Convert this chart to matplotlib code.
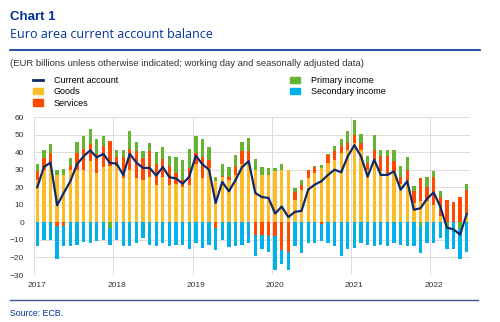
"""
Euro area current account balance (ECB Chart 1)
"""

import numpy as np
import matplotlib
matplotlib.use('Agg')
import matplotlib.pyplot as plt
from matplotlib.patches import Patch
from matplotlib.lines import Line2D

#---------------------------------------------------------------------------------------------------
# Data (EUR billions, monthly, Jan 2017 - Jun 2022)
#---------------------------------------------------------------------------------------------------

years = ['2017', '2018', '2019', '2020', '2021', '2022']

goods = [24, 30, 33, 27, 27, 30, 30, 30, 35, 28, 31.5, 32,
         32, 25, 30, 25, 24, 26, 21.5, 26, 21.5, 22, 20, 21,
         33, 25, 31, 23.4, 26, 24, 27, 33, 34, 30, 27, 27,
         29, 30, 30, 13, 18.6, 25, 28, 31, 33.8, 35.7, 39.5, 41.4,
         45, 41, 30, 35.7, 29, 27, 29, 22, 23.4, 11, 12, 12,
         10, 3.4, 0, 0, 0, 5.3]
services = [5, 6.7, 6.5, -2.3, -2.3, 2, 9.5, 12, 9.5, 11, 12, 14.5,
            5, 12.5, 11.5, 15.5, 12.5, 14.5, 11.5, 10, 10.5, 6, 4, 10,
            6.5, 12.5, 4.7, -3, 0.5, 2, 5, 7.5, 6.5, -7, -7, -8,
            -8, -15.6, -17, 4, 2.4, 5, 3.6, -1, 4.8, 4.8, 3.8, 3.6,
            5, 4, 3.8, 5.7, 8.6, 10.6, 5.8, 4, 6.6, 6.7, 13.3, 8,
            16, 11, 13, 11.6, 14.3, 13.3]
primary = [4.5, 4.7, 5, 2.8, 3.2, 4.7, 6.3, 7.2, 8.5, 8.5, 5.7, -3,
           4, 3.5, 10.5, 5.5, 4, 4.5, 7, 7, 6, 9.5, 11.5, 11,
           9.5, 10, 7.3, 2.6, 7, 5.6, 6.6, 5.3, 7.5, 6, 4.5, 4,
           2, 3, 0, 2.6, 3, 0, 0.7, 1.5, 0.5, 2.8, 4.2, 7,
           8.5, 5.5, 3.8, 8.6, 3.8, 3.8, 6.6, 6, 7, 2.8, -2, 6,
           3, 3.6, -3, 0, -4, 3.4]
secondary = [-13.3, -10, -10, -18.4, -11.4, -13.7, -12.7, -11.4, -11.8, -10.5, -10, -9.7,
             -10, -13.7, -13.7, -11.8, -9, -12.7, -13.7, -11.8, -13.7, -12.7, -12.7, -15.2,
             -11.8, -14.6, -12.7, -13, -10, -14, -13.7, -13, -12, -12.4, -8, -9,
             -19.4, -8, -10, -13.7, -17.5, -11.8, -11.8, -9.5, -11.8, -13.7, -19.4, -15.2,
             -14.6, -11.8, -12.7, -13.7, -12.7, -13.7, -11.8, -13, -13.7, -13.7, -15.5, -11.8,
             -11.8, -9, -12, -15.2, -17, -17]
current_account = [20, 31.5, 34, 9.7, 16.7, 23.4, 33, 37.6, 41, 37, 39, 33.8,
                   33.5, 27, 39, 34, 31, 31, 26.6, 31.5, 25.7, 25, 22, 26,
                   38, 33, 30, 11, 23, 17.7, 24, 31.5, 34.8, 16.7, 14.4, 13.9,
                   5, 9, 3, 6, 6.5, 18.6, 21.5, 23.4, 27, 30, 28.5, 37.6,
                   44, 37.6, 26, 35.7, 27, 27, 29, 18.6, 23.4, 7.2, 8, 13.5,
                   17, 9, -3, -4, -7, 4.8]

#---------------------------------------------------------------------------------------------------
# Styling
#---------------------------------------------------------------------------------------------------

plt.rcParams['font.family'] = ['Liberation Sans', 'DejaVu Sans']

ecb_blue = '#003299'
colors = {'Goods': '#FDBB27', 'Services': '#FF4B00',
          'Primary income': '#65B32E', 'Secondary income': '#00B1EA'}
ca_color = '#0F2A6B'
txt_color = '#333333'

#---------------------------------------------------------------------------------------------------
# Make Plot
#---------------------------------------------------------------------------------------------------

fig = plt.figure(figsize=(5.0, 3.22), dpi=100)
ax = fig.add_axes([34/500, 1 - 275/322, (470 - 34)/500, (275 - 117)/322])

x = np.arange(len(goods)) + 0.5
comps = [('Goods', goods), ('Services', services),
         ('Primary income', primary), ('Secondary income', secondary)]
pos_base = np.zeros(len(x))
neg_base = np.zeros(len(x))
for name, vals in comps:
    v = np.array(vals, dtype=float)
    bottom = np.where(v >= 0, pos_base, neg_base)
    ax.bar(x, v, bottom=bottom, width=0.5, color=colors[name], linewidth=0, zorder=2)
    pos_base = pos_base + np.where(v >= 0, v, 0)
    neg_base = neg_base + np.where(v < 0, v, 0)

ax.plot(x, current_account, color=ca_color, lw=1.6, zorder=3)

ax.set_xlim(0, len(goods))
ax.set_ylim(-30, 60)
ax.set_yticks(np.arange(-30, 61, 10))
ax.set_xticks(np.arange(0, len(goods), 12))
ax.set_xticklabels([])
ax.set_xticks(np.arange(0, len(goods), 12) + 0.5, minor=True)
ax.set_xticklabels(years, minor=True)
ax.tick_params(axis='both', which='both', length=0, labelsize=6, colors=txt_color)
ax.tick_params(axis='x', which='minor', pad=5)
ax.tick_params(axis='y', pad=7)
ax.grid(True, which='major', color='#dcdcdc', lw=0.7, zorder=0)
for s in ax.spines.values():
    s.set_visible(False)

# Header
fig.text(10/500, 1 - 17/322, 'Chart 1', fontsize=9.5, fontweight='bold', color=ecb_blue, va='center')
fig.text(10/500, 1 - 35/322, 'Euro area current account balance', fontsize=9,
         family=['Open Sans', 'DejaVu Sans'], color=ecb_blue, va='center')
fig.add_artist(Line2D([10/500, 480/500], [1 - 50/322, 1 - 50/322], color=ecb_blue, lw=1.2))
fig.text(10/500, 1 - 63/322,
         '(EUR billions unless otherwise indicated; working day and seasonally adjusted data)',
         fontsize=6.8, color=txt_color, va='center')

# Legends
h1 = [Line2D([], [], color=ca_color, lw=2),
      Patch(color=colors['Goods']), Patch(color=colors['Services'])]
h2 = [Patch(color=colors['Primary income']), Patch(color=colors['Secondary income'])]
leg_kw = dict(frameon=False, fontsize=6.5, handlelength=1.1, handleheight=0.7,
              handletextpad=1.2, labelspacing=0.25, borderpad=0, borderaxespad=0)
fig.legend(h1, ['Current account', 'Goods', 'Services'], loc='upper left',
           bbox_to_anchor=(33/500, 1 - 76/322), **leg_kw)
fig.legend(h2, ['Primary income', 'Secondary income'], loc='upper left',
           bbox_to_anchor=(290/500, 1 - 76/322), **leg_kw)

# Footer
fig.add_artist(Line2D([10/500, 478/500], [1 - 300/322, 1 - 300/322], color='#3b5a94', lw=1.0))
fig.text(10/500, 1 - 313/322, 'Source: ECB.', fontsize=6.3, color=ecb_blue, va='center')

plt.savefig('out.png', dpi=100)
